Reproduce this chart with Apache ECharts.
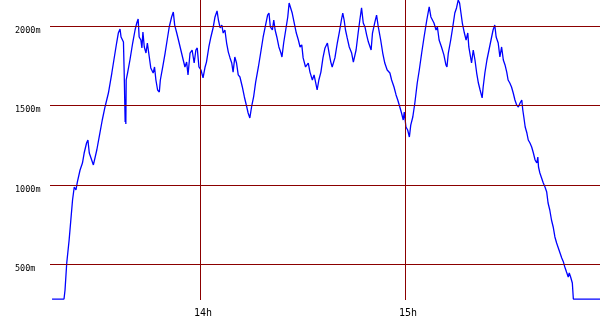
<!DOCTYPE html>
<html>
<head>
<meta charset="utf-8">
<script src="https://cdn.jsdelivr.net/npm/echarts@6/dist/echarts.min.js"></script>
<style>html,body{margin:0;padding:0;background:#fff}#c{width:600px;height:330px}</style>
</head>
<body>
<div id="c"></div>
<script>
// time in minutes since midnight
const times = [796.7,800.2,800.5,801.0,801.7,802.2,802.7,803.2,803.7,804.1,804.9,805.6,806.1,806.8,807.2,807.6,808.3,808.8,809.3,809.8,
810.7,811.4,812.2,813.2,814.2,814.8,815.6,816.1,816.6,816.9,817.2,817.6,817.8,818.1,818.2,818.3,818.4,818.8,819.5,820.3,
821.0,821.5,821.9,822.2,822.7,823.0,823.3,823.7,824.2,824.6,825.0,825.6,826.3,826.7,827.1,827.6,828.1,828.4,829.1,829.8,
830.4,831.0,831.7,832.2,832.6,833.2,833.7,834.4,835.1,835.6,836.1,836.5,837.1,837.7,838.3,838.8,839.2,839.7,840.3,840.9,
841.5,841.9,842.6,843.2,843.9,844.4,845.0,845.4,845.9,846.4,846.8,847.3,847.8,848.3,848.8,849.3,849.7,850.2,850.7,851.2,
851.7,852.4,853.0,853.7,854.1,854.6,855.1,855.7,856.3,857.1,857.9,858.5,859.2,859.8,860.2,860.6,861.2,861.6,862.0,862.5,
863.1,863.7,864.0,864.5,865.1,865.7,866.1,866.6,867.0,867.6,868.2,868.8,869.3,869.8,870.2,870.9,871.7,872.2,872.9,873.4,
873.9,874.3,874.8,875.4,876.0,876.6,877.3,877.8,878.3,878.7,879.0,879.5,880.2,880.8,881.4,881.8,882.2,882.6,883.1,883.7,
884.4,884.9,885.2,885.7,886.3,886.8,887.3,887.8,888.3,888.8,889.3,889.8,890.1,890.5,891.2,891.7,892.2,892.9,893.5,894.1,
894.8,895.6,896.1,896.8,897.4,897.9,898.5,899.0,899.5,899.8,900.3,900.8,901.3,901.7,902.3,902.9,903.6,904.2,904.9,905.6,
906.4,907.1,907.6,908.1,908.5,909.1,909.5,910.0,910.7,911.4,912.0,912.3,912.7,913.4,914.0,914.6,915.1,915.6,916.0,916.4,
916.8,917.4,917.9,918.4,918.7,919.2,919.5,920.0,920.5,921.0,921.5,922.0,922.6,922.9,923.4,924.0,924.6,925.2,925.8,926.3,
926.7,927.3,927.8,928.3,928.8,929.3,929.8,930.2,930.7,931.2,931.7,932.2,932.7,933.2,933.7,934.2,934.5,934.8,935.2,935.7,
936.1,936.6,937.1,937.6,938.1,938.6,938.9,939.1,939.5,940.0,940.5,941.0,941.5,941.9,942.4,942.9,943.4,943.9,944.4,944.9,
945.4,945.9,946.4,946.8,947.3,947.8,948.1,948.5,949.0,949.3,957.1];
// altitude in metres
const altitudes = [282,282,339,509,654,780,906,988,969,1019,1095,1139,1202,1265,1284,1202,1158,1127,1139,1221,
1328,1410,1492,1580,1706,1788,1895,1958,1983,1933,1945,1901,1725,1397,1473,1385,1662,1706,1788,1895,
1977,2021,2046,1933,1914,1864,1964,1870,1832,1895,1832,1738,1706,1744,1662,1599,1586,1662,1744,1832,
1914,1996,2059,2090,2008,1958,1914,1851,1788,1744,1775,1694,1832,1851,1769,1851,1864,1744,1725,1675,
1744,1775,1870,1933,1996,2059,2097,2040,1990,2008,1958,1977,1895,1838,1801,1769,1712,1807,1769,1694,
1681,1618,1555,1492,1454,1423,1492,1555,1649,1744,1851,1933,2008,2071,2084,1996,1977,2040,1977,1933,
1870,1832,1807,1895,1977,2059,2147,2135,2084,2021,1958,1914,1870,1883,1801,1744,1769,1712,1662,1694,
1643,1599,1662,1712,1801,1864,1895,1832,1775,1744,1738,1801,1895,1964,2040,2084,2040,1977,1927,1870,
1832,1775,1769,1851,1958,2040,2116,2021,1996,1945,1901,1870,1851,1958,2027,2071,1996,1914,1832,1769,
1725,1706,1662,1618,1568,1536,1492,1454,1410,1460,1366,1347,1303,1378,1429,1517,1643,1725,1832,1933,
2040,2122,2059,2071,2021,1977,1996,1914,1870,1820,1757,1744,1832,1914,1996,2084,2116,2166,2147,2084,
2021,1958,1914,1958,1870,1807,1769,1851,1788,1706,1643,1599,1549,1618,1706,1788,1851,1914,1977,2008,
1933,1895,1807,1870,1788,1757,1712,1662,1643,1618,1580,1536,1505,1492,1517,1536,1473,1429,1366,1328,
1284,1265,1240,1202,1158,1139,1177,1114,1076,1045,1013,988,956,887,843,780,736,673,635,604,
572,541,515,484,452,421,446,421,383,282,282];
const xTicks = [840, 900];
const xTickLabels = ['14h', '15h'];
const yTicks = [500, 1000, 1500, 2000];
const yTickLabels = ['500m', '1000m', '1500m', '2000m'];

const data = times.map((t, i) => [t, altitudes[i]]);
const gridColor = '#8b0000';
const chart = echarts.init(document.getElementById('c'), null, {renderer: 'canvas'});
chart.setOption({
  animation: false,
  backgroundColor: '#ffffff',
  grid: {left: 50, right: 0, top: 0, bottom: 30},
  xAxis: {
    type: 'value', min: 796.1, max: 957.1,
    axisLine: {show: false}, axisTick: {show: false}, splitLine: {show: false},
    axisLabel: {
      customValues: xTicks,
      formatter: v => xTickLabels[xTicks.indexOf(v)],
      fontFamily: 'DejaVu Sans Mono', fontSize: 10, color: '#000',
      margin: 8, padding: [0, 0, 0, 6]
    }
  },
  yAxis: {
    type: 'value', min: 276, max: 2166,
    axisLine: {show: false}, axisTick: {show: false}, splitLine: {show: false},
    axisLabel: {
      customValues: yTicks,
      formatter: v => yTickLabels[yTicks.indexOf(v)],
      fontFamily: 'DejaVu Sans Mono', fontSize: 8.5, color: '#000',
      align: 'left', verticalAlign: 'top', margin: 35
    }
  },
  series: [{
    type: 'line', data: data, showSymbol: false,
    lineStyle: {color: '#0000ff', width: 1.3},
    z: 3,
    markLine: {
      silent: true, symbol: 'none', animation: false,
      label: {show: false},
      lineStyle: {color: gridColor, width: 1, type: 'solid'},
      data: yTicks.map(v => ({yAxis: v})).concat(xTicks.map(v => ({xAxis: v})))
    }
  }]
});
</script>
</body>
</html>
